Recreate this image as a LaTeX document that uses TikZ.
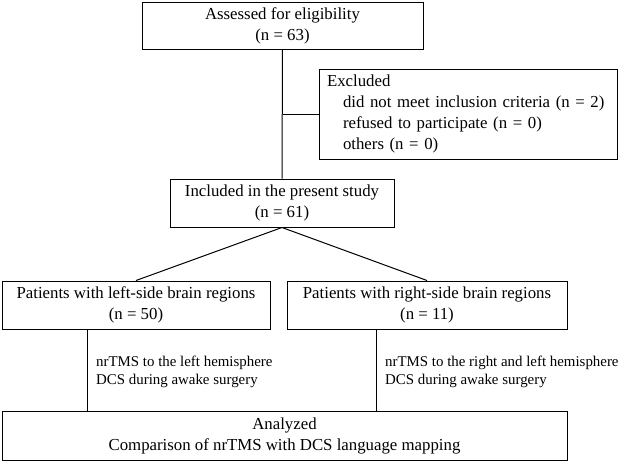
\documentclass[tikz,border=0pt]{standalone}
\usepackage{fontspec}
\setmainfont{Liberation Serif}
\usetikzlibrary{calc}
\begin{document}
\begin{tikzpicture}[x=1pt,y=-1pt,
  every node/.style={font=\fontsize{16.8}{21}\selectfont},
  flowbox/.style={draw,line width=1pt,inner sep=0pt,align=center},
  note/.style={anchor=west,align=left,inner sep=0pt,font=\fontsize{14.9}{18.5}\selectfont},
  link/.style={line width=1pt}]
\useasboundingbox (0,0) rectangle (622,461);
\node[flowbox,minimum width=281pt,minimum height=47pt] (top) at (282.5,25.5) {Assessed for eligibility\\(n = 63)};
\node[flowbox,text width=282pt,inner xsep=8pt,minimum height=90pt,align=left] (excl) at (468,114)
  {Excluded\\\hspace*{16pt}did not meet inclusion criteria (n = 2)\\\hspace*{16pt}refused to participate (n = 0)\\\hspace*{16pt}others (n = 0)};
\node[flowbox,minimum width=224pt,minimum height=48pt] (incl) at (282,203) {Included in the present study\\(n = 61)};
\node[flowbox,minimum width=268pt,minimum height=48pt] (left) at (136,305) {Patients with left-side brain regions\\(n = 50)};
\node[flowbox,minimum width=280pt,minimum height=48pt] (right) at (427,305) {Patients with right-side brain regions\\(n = 11)};
\node[flowbox,minimum width=565pt,minimum height=49pt] (bot) at (284.5,435.5) {Analyzed\\Comparison of nrTMS with DCS language mapping};
\node[note] (nl) at (96,372) {nrTMS to the left hemisphere\\DCS during awake surgery};
\node[note] (nr) at (385,372) {nrTMS to the right and left hemisphere\\DCS during awake surgery};
\coordinate (lf) at ($(left.south west)+(86,0)$);
\coordinate (rf) at ($(right.south west)+(90,0)$);
\draw[link] (top.south) -- (incl.north);
\draw[link] (excl.west) -- (excl.west -| top.south);
\draw[link] (incl.south) -- (left.north);
\draw[link] (incl.south) -- (right.north);
\draw[link] (lf) -- (lf |- bot.north);
\draw[link] (rf) -- (rf |- bot.north);
\end{tikzpicture}
\end{document}
